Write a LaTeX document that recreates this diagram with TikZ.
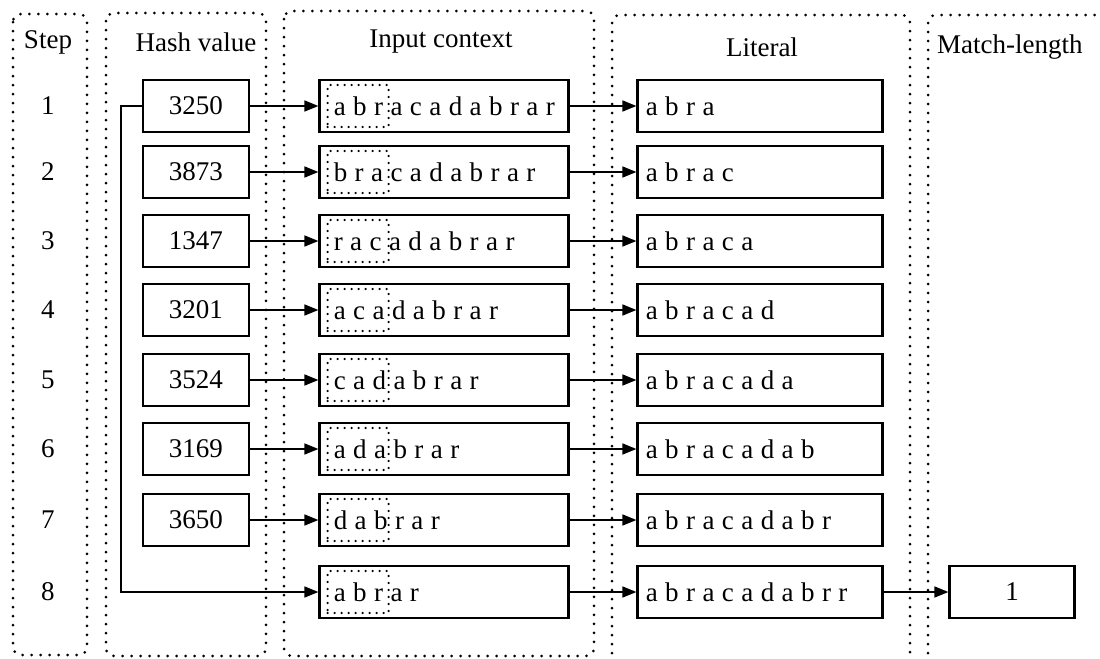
\documentclass[tikz,border=0pt]{standalone}
\usepackage{fontspec}
\setmainfont{Liberation Serif}
\newfontfamily\letters[WordSpace=1.1]{Liberation Serif}
\usetikzlibrary{arrows.meta,positioning}

\begin{document}
\begin{tikzpicture}[x=0.5pt,y=-0.5pt,font=\fontsize{13.5}{16}\selectfont,
        frame/.style={line width=1.5pt,dash pattern=on 0pt off 4.5pt,line cap=round,rounded corners=4pt},
        cell/.style={draw,line width=1.1pt,minimum height=26pt,inner sep=0pt},
        hashcell/.style={cell,minimum width=53pt},
        incell/.style={cell,minimum width=124.5pt},
        litcell/.style={cell,minimum width=122.5pt},
        window/.style={draw,line width=1.2pt,dash pattern=on 0pt off 3.5pt,line cap=round,minimum width=30.5pt,minimum height=21pt,inner sep=0pt},
        word/.style={anchor=west,inner xsep=4.5pt,font=\fontsize{13.5}{16}\letters},
        link/.style={-{Triangle[length=7pt,width=5.5pt]},line width=0.8pt}]
    \useasboundingbox (0,0) rectangle (1100,659);
    % dotted column frames
    \draw[frame] (13,14) rectangle (87,655);
    \draw[frame] (106,13) rectangle (266,656);
    \draw[frame] (284,11) rectangle (594,656);
    \draw[frame] (612,680) -- (612,15) -- (910,15) -- (910,680);
    \draw[frame] (928,680) -- (928,15) -- (1120,15);
    % column headers
    \node (hstep) at (48,42) {Step};
    \node (hhash) at (196,42) {Hash value};
    \node (hin) at (441,42) {Input context};
    \node (hlit) at (762,47) {Literal};
    \node[anchor=west] (hmatch) at (930,47) {Match-length};
    % step numbers
    \node (s1) at (48,106) {1};
    \node (s2) at (48,172) {2};
    \node (s3) at (48,241) {3};
    \node (s4) at (48,310) {4};
    \node (s5) at (48,380) {5};
    \node (s6) at (48,449) {6};
    \node (s7) at (48,520) {7};
    \node (s8) at (48,592) {8};
    % hash values
    \node[hashcell] (h1) at (196,106) {3250};
    \node[hashcell] (h2) at (196,172) {3873};
    \node[hashcell] (h3) at (196,241) {1347};
    \node[hashcell] (h4) at (196,310) {3201};
    \node[hashcell] (h5) at (196,380) {3524};
    \node[hashcell] (h6) at (196,449) {3169};
    \node[hashcell] (h7) at (196,520) {3650};
    % input context with the three-letter window
    \node[incell] (in1) at (444,106) {};
    \node[incell] (in2) at (444,172) {};
    \node[incell] (in3) at (444,241) {};
    \node[incell] (in4) at (444,310) {};
    \node[incell] (in5) at (444,380) {};
    \node[incell] (in6) at (444,449) {};
    \node[incell] (in7) at (444,520) {};
    \node[incell] (in8) at (444,592) {};
    \node[window,right=4pt of in1.west] (w1) {};
    \node[window,right=4pt of in2.west] (w2) {};
    \node[window,right=4pt of in3.west] (w3) {};
    \node[window,right=4pt of in4.west] (w4) {};
    \node[window,right=4pt of in5.west] (w5) {};
    \node[window,right=4pt of in6.west] (w6) {};
    \node[window,right=4pt of in7.west] (w7) {};
    \node[window,right=4pt of in8.west] (w8) {};
    \node[word,inner xsep=3.5pt] (t1) at (w1.west) {a b r a c a d a b r a r};
    \node[word,inner xsep=3.5pt] (t2) at (w2.west) {b r a c a d a b r a r};
    \node[word,inner xsep=3.5pt] (t3) at (w3.west) {r a c a d a b r a r};
    \node[word,inner xsep=3.5pt] (t4) at (w4.west) {a c a d a b r a r};
    \node[word,inner xsep=3.5pt] (t5) at (w5.west) {c a d a b r a r};
    \node[word,inner xsep=3.5pt] (t6) at (w6.west) {a d a b r a r};
    \node[word,inner xsep=3.5pt] (t7) at (w7.west) {d a b r a r};
    \node[word,inner xsep=3.5pt] (t8) at (w8.west) {a b r a r};
    % literal
    \node[litcell] (l1) at (760,106) {};
    \node[litcell] (l2) at (760,172) {};
    \node[litcell] (l3) at (760,241) {};
    \node[litcell] (l4) at (760,310) {};
    \node[litcell] (l5) at (760,380) {};
    \node[litcell] (l6) at (760,449) {};
    \node[litcell] (l7) at (760,520) {};
    \node[litcell] (l8) at (760,592) {};
    \node[word] (lt1) at (l1.west) {a b r a};
    \node[word] (lt2) at (l2.west) {a b r a c};
    \node[word] (lt3) at (l3.west) {a b r a c a};
    \node[word] (lt4) at (l4.west) {a b r a c a d};
    \node[word] (lt5) at (l5.west) {a b r a c a d a};
    \node[word] (lt6) at (l6.west) {a b r a c a d a b};
    \node[word] (lt7) at (l7.west) {a b r a c a d a b r};
    \node[word] (lt8) at (l8.west) {a b r a c a d a b r r};
    % match length
    \node[hashcell,minimum width=62.5pt] (m8) at (1012,592) {1};
    % arrows
    \draw[link] (h1) -- (in1);
    \draw[link] (h2) -- (in2);
    \draw[link] (h3) -- (in3);
    \draw[link] (h4) -- (in4);
    \draw[link] (h5) -- (in5);
    \draw[link] (h6) -- (in6);
    \draw[link] (h7) -- (in7);
    \draw[link] (h1.west) -- ++(-21,0) |- (in8.west);
    \draw[link] (in1) -- (l1);
    \draw[link] (in2) -- (l2);
    \draw[link] (in3) -- (l3);
    \draw[link] (in4) -- (l4);
    \draw[link] (in5) -- (l5);
    \draw[link] (in6) -- (l6);
    \draw[link] (in7) -- (l7);
    \draw[link] (in8) -- (l8);
    \draw[link] (l8) -- (m8);
\end{tikzpicture}
\end{document}
